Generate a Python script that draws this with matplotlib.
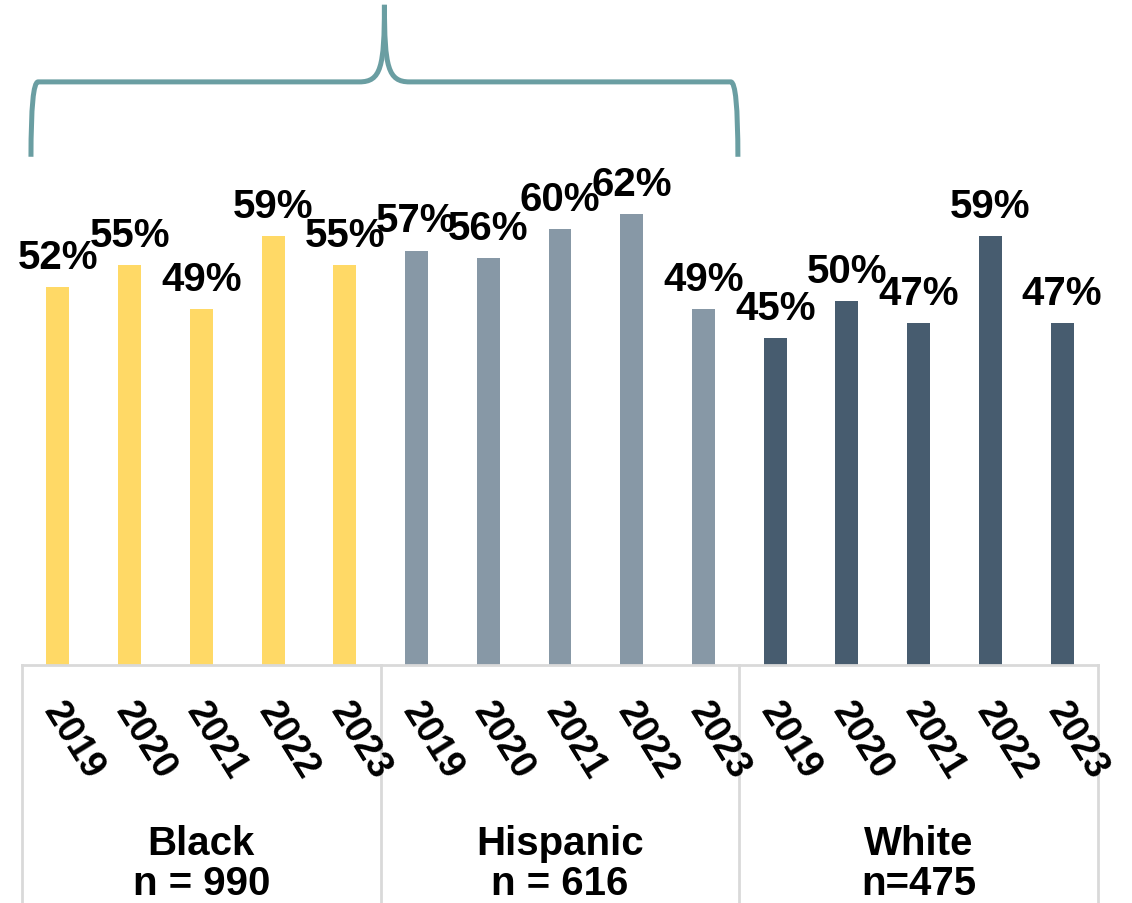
import numpy as np
import matplotlib
matplotlib.use("Agg")
import matplotlib.pyplot as plt
from matplotlib.path import Path
from matplotlib.patches import PathPatch

plt.rcParams['font.family'] = ['Liberation Sans', 'DejaVu Sans']

# datos
years = ["2019", "2020", "2021", "2022", "2023"]
groups = ["Black\nn = 990", "Hispanic\nn = 616", "White\nn=475"]
black = [0.52, 0.55, 0.49, 0.59, 0.55]
hispanic = [0.57, 0.56, 0.60, 0.62, 0.49]
white = [0.45, 0.50, 0.47, 0.59, 0.47]
colors = ["#FFD966", "#8798A6", "#475C6F"]

W, H = 1132, 904
fig = plt.figure(figsize=(W / 100, H / 100), dpi=100)
ax = fig.add_axes([22 / W, (H - 666) / H, (1098 - 22) / W, 666 / H])
ax.set_xlim(-0.5, 14.5)
ax.set_ylim(0, 0.916)

series = [black, hispanic, white]
for g, vals in enumerate(series):
    x = np.arange(5) + g * 5
    ax.bar(x, vals, width=0.32, color=colors[g], zorder=2)
    for xi, v in zip(x, vals):
        ax.annotate(f"{v:.0%}", (xi, v), xytext=(0, 8), textcoords="offset points",
                    ha="center", va="bottom", fontsize=29, fontweight="bold")

ax.set_xticks([])
ax.set_yticks([])
for s in ax.spines.values():
    s.set_visible(False)

# eje inferior y separadores
grid_c = "#D9D9D9"
ax.axhline(0, color=grid_c, lw=2, clip_on=False)
trans = ax.get_xaxis_transform()
for b in [-0.5, 4.5, 9.5, 14.5]:
    ax.plot([b, b], [0, -0.4], color=grid_c, lw=2, transform=trans, clip_on=False)

# etiquetas de año
for g in range(3):
    for i, y in enumerate(years):
        ax.text(g * 5 + i + 0.12, -0.045, y, transform=trans, rotation=-58,
                rotation_mode="anchor", ha="left", va="top",
                fontsize=27, fontweight="bold")
    ax.text(g * 5 + 2, -0.297, groups[g], transform=trans, ha="center", va="center",
            fontsize=29, fontweight="bold", linespacing=1.05)

# llave sobre Black e Hispanic
x0, x1 = -0.375, 9.48
xm = (x0 + x1) / 2
yb, yh, yt = 0.699, 0.802, 0.908
r = 0.1
verts = [(x0, yb), (x0, yh), (x0 + r, yh),
         (xm - 0.35, yh), (xm - 0.05, yh), (xm, yh + 0.02), (xm, yt)]
codes = [Path.MOVETO, Path.CURVE3, Path.CURVE3,
         Path.LINETO, Path.CURVE4, Path.CURVE4, Path.CURVE4]
verts2 = [(x1, yb), (x1, yh), (x1 - r, yh),
          (xm + 0.35, yh), (xm + 0.05, yh), (xm, yh + 0.02), (xm, yt)]
for v in (verts, verts2):
    ax.add_patch(PathPatch(Path(v, codes), fill=False, edgecolor="#6A9EA2",
                           lw=3.6, capstyle="butt", clip_on=False))

fig.savefig("out.png", dpi=100)
